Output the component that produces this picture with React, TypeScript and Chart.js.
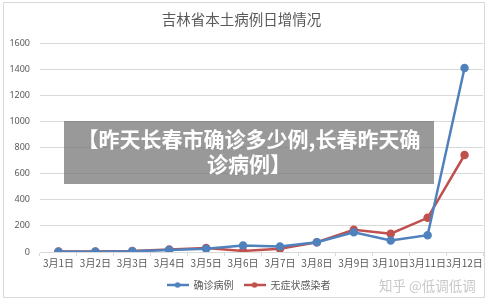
import React, { useEffect, useRef } from "react";
import { Chart, registerables } from "chart.js";

Chart.register(...registerables);

const categories = ["3月1日", "3月2日", "3月3日", "3月4日", "3月5日", "3月6日", "3月7日", "3月8日", "3月9日", "3月10日", "3月11日", "3月12日"];
const confirmed = [2, 2, 5, 16, 25, 50, 42, 75, 152, 88, 129, 1412];
const asymptomatic = [3, 3, 8, 20, 30, 8, 25, 75, 170, 140, 262, 744];
const seriesNames = ["确诊病例", "无症状感染者"];
const titleText = "吉林省本土病例日增情况";
const overlayLines = ["【昨天长春市确诊多少例,长春昨天确", "诊病例】"];
const watermark = "知乎 @低调低调";

const BLUE = "#4F81BD";
const RED = "#C0504D";
const FONT = "'Noto Sans CJK SC', 'Noto Sans', sans-serif";

function legendMarker(color: string) {
  const c = document.createElement("canvas");
  c.width = 22;
  c.height = 8;
  const ctx = c.getContext("2d")!;
  ctx.strokeStyle = color;
  ctx.lineWidth = 2.5;
  ctx.beginPath();
  ctx.moveTo(0, 4);
  ctx.lineTo(22, 4);
  ctx.stroke();
  ctx.fillStyle = color;
  ctx.beginPath();
  ctx.arc(11, 4, 2.8, 0, Math.PI * 2);
  ctx.fill();
  return c;
}

const legendShift = {
  id: "legendShift",
  afterLayout(chart: any) {
    if (chart.legend) {
      chart.legend.left += 7;
      chart.legend.right += 7;
    }
  },
};

export default function App() {
  const ref = useRef<HTMLCanvasElement>(null);
  useEffect(() => {
    document.body.style.margin = "0";
    const markers = [legendMarker(BLUE), legendMarker(RED)];
    const chart = new Chart(ref.current!, {
      type: "line",
      data: {
        labels: categories,
        datasets: [
          {
            label: seriesNames[0],
            data: confirmed,
            borderColor: BLUE,
            backgroundColor: BLUE,
            borderWidth: 2.5,
            pointRadius: 3,
            pointBackgroundColor: BLUE,
            pointBorderColor: BLUE,
            tension: 0,
          },
          {
            label: seriesNames[1],
            data: asymptomatic,
            borderColor: RED,
            backgroundColor: RED,
            borderWidth: 2.5,
            pointRadius: 3,
            pointBackgroundColor: RED,
            pointBorderColor: RED,
            tension: 0,
          },
        ],
      },
      plugins: [legendShift],
      options: {
        animation: false,
        responsive: false,
        layout: { padding: { left: 0, right: 17, top: 0, bottom: 6 } },
        plugins: {
          title: {
            display: true,
            text: titleText,
            color: "#595959",
            font: { family: FONT, size: 14.5, weight: "normal" },
            padding: { top: 11, bottom: 15 },
          },
          legend: {
            position: "bottom",
            labels: {
              usePointStyle: true,
              pointStyleWidth: 22,
              color: "#595959",
              font: { family: FONT, size: 10 },
              padding: 10,
              generateLabels: (ch: any) =>
                ch.data.datasets.map((ds: any, i: number) => ({
                  text: ds.label,
                  fillStyle: ds.borderColor,
                  strokeStyle: ds.borderColor,
                  pointStyle: markers[i],
                  datasetIndex: i,
                  hidden: false,
                  fontColor: "#595959",
                })),
            },
          },
          tooltip: { enabled: false },
        },
        scales: {
          x: {
            offset: true,
            grid: {
              offset: true,
              drawOnChartArea: false,
              drawTicks: true,
              tickLength: 4,
              color: "#d9d9d9",
            },
            border: { color: "#d9d9d9" },
            ticks: {
              color: "#595959",
              font: { family: FONT, size: 10 },
              padding: 1,
              maxRotation: 0,
              autoSkip: false,
            },
          },
          y: {
            min: 0,
            max: 1600,
            afterFit: (s: any) => {
              s.width = 40;
            },
            grid: { color: "#d9d9d9", drawTicks: false },
            border: { display: false },
            ticks: {
              stepSize: 200,
              color: "#595959",
              font: { family: "'Noto Sans', sans-serif", size: 9 },
              padding: 10,
              callback: (v: any) => String(v),
            },
          },
        },
      },
    });
    return () => chart.destroy();
  }, []);

  return (
    <div style={{ position: "relative", width: 500, height: 306, background: "#fff", fontFamily: FONT }}>
      <div
        style={{
          position: "absolute",
          left: 3,
          top: 2,
          width: 482,
          height: 296,
          border: "1px solid #d9d9d9",
          boxSizing: "border-box",
        }}
      />
      <canvas ref={ref} width={500} height={306} style={{ position: "absolute", left: 0, top: 0 }} />
      <div
        style={{
          position: "absolute",
          left: 64,
          top: 121,
          width: 370,
          height: 63,
          background: "rgba(110,110,110,0.7)",
          color: "#fff",
          fontWeight: "bold",
          fontSize: 21,
          lineHeight: "25px",
          textAlign: "center",
          boxSizing: "border-box",
          paddingTop: 5,
          whiteSpace: "nowrap",
        }}
      >
        {overlayLines.map((l, i) => (
          <div key={i}>{l}</div>
        ))}
      </div>
      <div
        style={{
          position: "absolute",
          left: 379,
          top: 276,
          color: "#c8c8c8",
          fontSize: 13.5,
          lineHeight: "18px",
          whiteSpace: "nowrap",
        }}
      >
        {watermark}
      </div>
    </div>
  );
}
